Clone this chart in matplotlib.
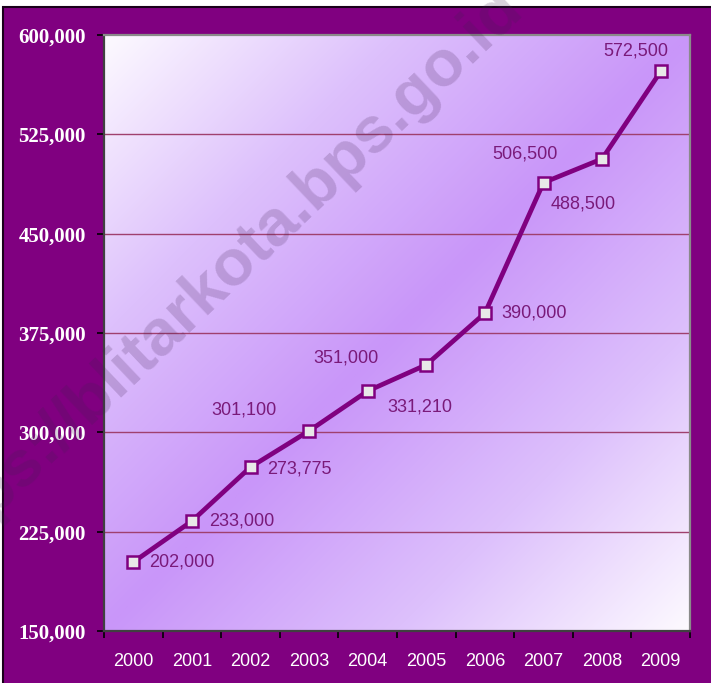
import numpy as np
import matplotlib
matplotlib.use("Agg")
import matplotlib.pyplot as plt
from matplotlib.colors import LinearSegmentedColormap
from matplotlib.patches import Rectangle

years = ["2000", "2001", "2002", "2003", "2004", "2005", "2006", "2007", "2008", "2009"]
values = [202000, 233000, 273775, 301100, 331210, 351000, 390000, 488500, 506500, 572500]
y_ticks = [150000, 225000, 300000, 375000, 450000, 525000, 600000]
watermark = "https://blitarkota.bps.go.id"

# label offsets in pixels (style only)
label_offsets = [(16, 0, "left"), (17, 0, "left"), (17, -2, "left"), (-65, 21, "center"),
                 (52, -16, "center"), (-80, 7, "center"), (16, 0, "left"),
                 (40, -21, "center"), (-77, 5, "center"), (-25, 20, "center")]

W, H = 711, 683
fig = plt.figure(figsize=(W / 100, H / 100), dpi=100)
fig.patch.set_facecolor("white")
bg = Rectangle((3 / W, -0.05), 1.1, 1.05 - 7 / H, transform=fig.transFigure,
               facecolor="#800080", edgecolor="#1a001a", linewidth=1.5, zorder=-5)
fig.add_artist(bg)

ax = fig.add_axes([104 / W, 1 - 631 / H, (690 - 104) / W, (631 - 35) / H])
ax.set_zorder(1)
ax.set_facecolor("white")

# diagonal gradient: white corners -> purple anti-diagonal band
n = 300
xx, yy = np.meshgrid(np.linspace(0, 1, n), np.linspace(0, 1, n))
t = (xx + yy) / 2.0
g = 1 - np.abs(t - 0.5) * 2
cmap = LinearSegmentedColormap.from_list("g", ["#fdfaff", "#ddc0fc", "#c996f9"])
ax.imshow(g, cmap=cmap, extent=[0, 1, 0, 1], transform=ax.transAxes, aspect="auto",
          zorder=0, interpolation="bilinear", vmin=0, vmax=1)

x = np.arange(len(years))
ax.set_xlim(-0.5, len(years) - 0.5)
ax.set_ylim(y_ticks[0], y_ticks[-1])

for yv in y_ticks[1:-1]:
    ax.axhline(yv, color="#a0406e", linewidth=1.0, zorder=1)

ax.plot(x, values, color="#800080", linewidth=3.4, marker="s", markersize=8,
        markerfacecolor="#e8e8e8", markeredgecolor="#800080", markeredgewidth=1.8, zorder=3)

for xi, v, (dx, dy, ha) in zip(x, values, label_offsets):
    ax.annotate(f"{v:,}", (xi, v), xytext=(dx, dy), textcoords="offset pixels",
                ha=ha, va="center", color="#7a1a7a", fontsize=13,
                family="Liberation Sans", zorder=4)

ax.set_yticks(y_ticks)
ax.set_yticklabels([f"{v:,}" for v in y_ticks], family="Liberation Serif",
                   fontweight="bold", fontsize=15, color="white")
ax.set_xticks(x)
ax.set_xticklabels(years, family="Liberation Sans", fontsize=13, color="white")
ax.set_xticks(np.arange(len(years) + 1) - 0.5, minor=True)
ax.tick_params(axis="x", which="major", length=0, pad=16)
ax.tick_params(axis="x", which="minor", length=5, width=1.2, color="black", direction="out")
ax.tick_params(axis="y", length=5, width=1.2, color="black", direction="out", pad=8)

for s in ["left", "bottom"]:
    ax.spines[s].set_color("#404040")
    ax.spines[s].set_linewidth(1.6)
for s in ["top", "right"]:
    ax.spines[s].set_color("#8a8a8a")
    ax.spines[s].set_linewidth(1.6)

fig.text(216 / W, 1 - 280 / H, watermark, rotation=43.5, ha="center", va="center",
         fontsize=47, fontweight="bold", family="Liberation Sans",
         color="#402050", alpha=0.2, zorder=10, rotation_mode="anchor")

fig.savefig("out.png", dpi=100)
